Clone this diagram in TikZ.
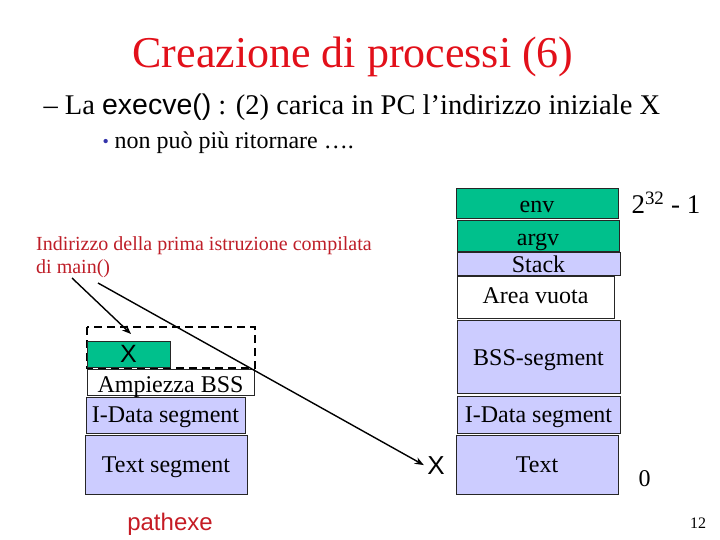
\documentclass[tikz,border=0pt]{standalone}
\usepackage{fontspec}
\setmainfont{Liberation Serif}
\newfontfamily\arial{Liberation Sans}
\usetikzlibrary{arrows.meta}
\definecolor{segg}{RGB}{0,192,140}
\definecolor{segl}{RGB}{204,204,255}
\definecolor{titred}{RGB}{226,16,26}
\definecolor{lblred}{RGB}{190,30,40}
\definecolor{bulblue}{RGB}{51,51,170}
\tikzset{
  seg/.style={draw=black!85, line width=0.6pt, inner sep=0pt, outer sep=0pt, anchor=north west, font=\fontsize{24}{26}\selectfont},
  grn/.style={seg, fill=segg},
  lav/.style={seg, fill=segl},
  wht/.style={seg, fill=white},
  hd/.style 2 args={text height=#1pt, text depth=#2pt},
  arr/.style={line width=1.4pt, -{Stealth[length=9pt,width=7pt]}},
}
\begin{document}
\begin{tikzpicture}[x=1pt,y=-1pt]
\useasboundingbox (0,0) rectangle (720,540);
% title and text
\node[anchor=base, titred, font=\fontsize{44}{46}\selectfont] (title) at (353,68) {Creazione di processi (6)};
\node[anchor=base west, font=\fontsize{28.5}{30}\selectfont] (line1) at (40,115) {\textendash\ La {\arial execve()} : (2) carica in PC l'indirizzo iniziale X};
\node[anchor=base west, bulblue, font=\fontsize{18}{20}\selectfont] (bul) at (99,148) {\textbullet};
\node[anchor=base west, font=\fontsize{24}{26}\selectfont] (line2) at (111,149) {non può più ritornare \dots.};
% red label
\node[anchor=base west, lblred, font=\fontsize{20}{22}\selectfont, inner sep=0pt] (lbl) at (36,250) {Indirizzo della prima istruzione compilata};
\node[anchor=base west, lblred, font=\fontsize{20}{22}\selectfont, inner sep=0pt] (lbl2) at (36,273) {di main()};
% right column
\node[grn, minimum width=162pt, hd={25}{5}] (env) at (456,188) {env};
\node[grn, minimum width=162pt, hd={25}{6}] (argv) at (457,220) {argv};
\node[lav, minimum width=163pt, hd={20}{3}] (stack) at (457,252) {Stack};
\node[wht, minimum width=157pt, hd={27}{15}] (area) at (457,276) {Area vuota};
\node[lav, minimum width=163pt, hd={45}{28}] (bss) at (457,320) {BSS-segment};
\node[lav, minimum width=163pt, hd={26}{11}] (idata) at (457,396) {I-Data segment};
\node[lav, minimum width=162pt, hd={37}{22}] (text) at (456,435) {Text};
\node[anchor=base west, font=\fontsize{27}{29}\selectfont] (top) at (628,214) {2\textsuperscript{32} - 1};
\node[anchor=base west, font=\fontsize{24}{26}\selectfont] (zero) at (635,486) {0};
% left column
\draw[line width=2.6pt, dash pattern=on 8pt off 5pt] (87,327) rectangle (255,368);
\node[grn, minimum width=83pt, hd={21}{5}, font=\arial\fontsize{25}{26}\selectfont] (xbox) at (87,341) {X};
\node[wht, minimum width=167pt, hd={23}{3}] (bsz) at (87,369) {Ampiezza BSS};
\node[lav, minimum width=159pt, hd={25}{11}] (lidata) at (86,397) {I-Data segment};
\node[lav, minimum width=162pt, hd={37}{22}] (ltext) at (85,435) {Text segment};
\node[anchor=base, lblred!90!red, font=\arial\fontsize{24}{26}\selectfont] (path) at (170,530) {pathexe};
\node[anchor=base, font=\arial\fontsize{26}{28}\selectfont] (xlab) at (436,474) {X};
\node[anchor=base, font=\fontsize{16}{18}\selectfont] (pg) at (698,528) {12};
% arrows
\coordinate (s1) at (72,278);
\coordinate (e1) at (131,334);
\coordinate (s2) at (98,283);
\draw[arr] (s1) -- (e1);
\draw[arr] (s2) -- (xlab.west);
\end{tikzpicture}
\end{document}
